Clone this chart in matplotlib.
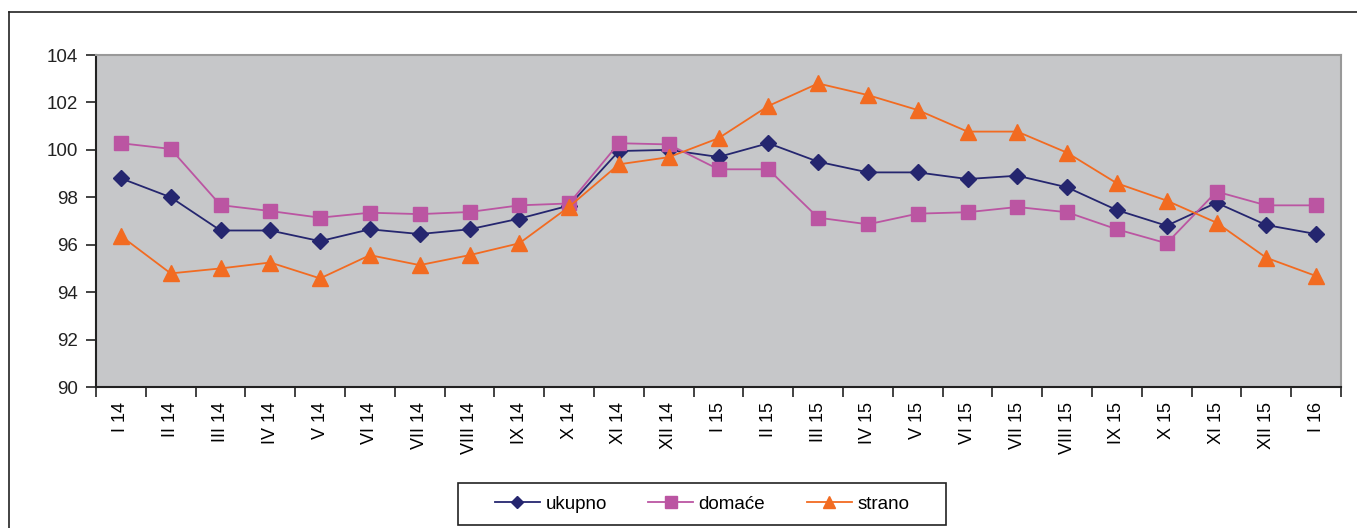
import matplotlib
matplotlib.use("Agg")
import matplotlib.pyplot as plt
from matplotlib.lines import Line2D
from matplotlib.patches import Rectangle
import numpy as np

plt.rcParams['font.family'] = ['Liberation Sans', 'DejaVu Sans']

categories = ["I 14", "II 14", "III 14", "IV 14", "V 14", "VI 14", "VII 14", "VIII 14",
              "IX 14", "X 14", "XI 14", "XII 14", "I 15", "II 15", "III 15", "IV 15",
              "V 15", "VI 15", "VII 15", "VIII 15", "IX 15", "X 15", "XI 15", "XII 15", "I 16"]

ukupno = [98.8, 98.0, 96.6, 96.6, 96.15, 96.65, 96.45, 96.65, 97.1, 97.65, 99.95, 100.0,
          99.7, 100.28, 99.5, 99.05, 99.05, 98.77, 98.91, 98.42, 97.46, 96.8, 97.77, 96.83, 96.45]
domace = [100.28, 100.04, 97.67, 97.42, 97.14, 97.35, 97.29, 97.38, 97.66, 97.74, 100.28, 100.23,
          99.18, 99.18, 97.14, 96.86, 97.31, 97.37, 97.59, 97.37, 96.65, 96.06, 98.24, 97.66, 97.66]
strano = [96.37, 94.79, 95.0, 95.25, 94.58, 95.56, 95.14, 95.56, 96.06, 97.6, 99.39, 99.69,
          100.49, 101.85, 102.8, 102.31, 101.68, 100.77, 100.77, 99.88, 98.59, 97.86, 96.93, 95.45, 94.68]

series_names = ["ukupno", "domaće", "strano"]
colors = ["#25266f", "#bb55a2", "#f26b21"]

W, H = 1357, 528
fig = plt.figure(figsize=(W/100, H/100), dpi=100)
ax = fig.add_axes([96/W, 1 - 387/H, (1341-96)/W, (387-55)/H])
ax.set_facecolor("#c6c7c9")

x = np.arange(len(categories))
ax.plot(x, ukupno, color=colors[0], lw=1.3, marker="D", ms=8.5, mec=colors[0], zorder=3)
ax.plot(x, domace, color=colors[1], lw=1.3, marker="s", ms=10, mec=colors[1], zorder=3)
ax.plot(x, strano, color=colors[2], lw=1.3, marker="^", ms=11, mec=colors[2], zorder=4)

ax.set_xlim(-0.5, len(categories) - 0.5)
ax.set_ylim(90, 104)
ax.set_yticks(np.arange(90, 105, 2))
ax.tick_params(axis='y', labelsize=13.5, length=7, width=1.2, direction='out', pad=6, colors='#222222')
ax.set_xticks(np.arange(-0.5, len(categories), 1))
ax.set_xticklabels([])
ax.tick_params(axis='x', which='major', length=7, width=1.2, direction='out', colors='#222222')
ax.set_xticks(x, minor=True)
ax.set_xticklabels(categories, minor=True, rotation=90, fontsize=13)
ax.tick_params(axis='x', which='minor', length=0, pad=11)

for s in ['left', 'bottom']:
    ax.spines[s].set_color('#222222')
    ax.spines[s].set_linewidth(1.5)
for s in ['top', 'right']:
    ax.spines[s].set_color('#999999')
    ax.spines[s].set_linewidth(1.5)

# outer frame (cropped at right and bottom)
fig.add_artist(Line2D([9/W, 9/W], [0, 1 - 12/H], color='#222222', lw=1.2, transform=fig.transFigure))
fig.add_artist(Line2D([9/W, 1], [1 - 12/H, 1 - 12/H], color='#222222', lw=1.2, transform=fig.transFigure))

# legend box
fig.add_artist(Rectangle((458/W, 1 - 525/H), (946-458)/W, (525-483)/H, transform=fig.transFigure,
                         fill=False, edgecolor='#222222', lw=1.2))

handles = [
    Line2D([], [], color=colors[0], lw=1.3, marker="D", ms=6),
    Line2D([], [], color=colors[1], lw=1.3, marker="s", ms=8),
    Line2D([], [], color=colors[2], lw=1.3, marker="^", ms=8),
]
leg = fig.legend(handles, series_names, loc='center', bbox_to_anchor=(702/W, 1 - 504/H),
                 ncol=3, fontsize=13.5, frameon=False,
                 handlelength=2.4, handletextpad=0.3, columnspacing=2.2, borderpad=0.2)

fig.savefig("out.png", dpi=100)
